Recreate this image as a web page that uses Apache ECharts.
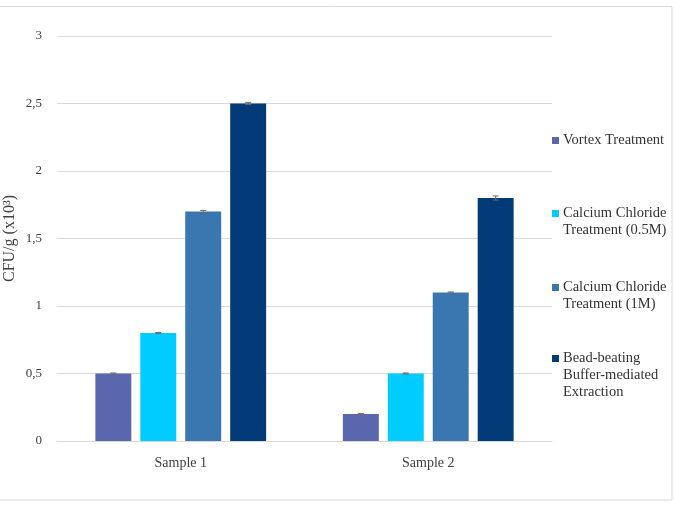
<!DOCTYPE html>
<html>
<head>
<meta charset="utf-8">
<script src="https://cdn.jsdelivr.net/npm/echarts@6/dist/echarts.min.js"></script>
<style>
  html, body { margin: 0; padding: 0; background: #fff; }
  #chart { width: 674px; height: 505px; }
</style>
</head>
<body>
<div id="chart"></div>
<script>
const categories = ["Sample 1", "Sample 2"];
const seriesNames = [
  "Vortex Treatment",
  "Calcium Chloride Treatment (0.5M)",
  "Calcium Chloride Treatment (1M)",
  "Bead-beating Buffer-mediated Extraction"
];
const vortex = [0.5, 0.2];
const cacl05 = [0.8, 0.5];
const cacl1 = [1.7, 1.1];
const beadBeating = [2.5, 1.8];
// +/- error per bar, same order as the series
const vortexErr = [0.004, 0.004];
const cacl05Err = [0.004, 0.004];
const cacl1Err = [0.008, 0.004];
const beadBeatingErr = [0.008, 0.015];

const values = [vortex, cacl05, cacl1, beadBeating];
const errors = [vortexErr, cacl05Err, cacl1Err, beadBeatingErr];
const colors = ["#5A66AE", "#00CCFF", "#3A77B0", "#023B77"];

// legend labels, wrapped like the original; blank lines keep the swatch on the first line
const legendLabels = [
  "Vortex Treatment",
  " \nCalcium Chloride\nTreatment (0.5M)",
  " \nCalcium Chloride\nTreatment (1M)",
  " \n \nBead-beating\nBuffer-mediated\nExtraction"
];
const legendTops = [132, 188, 262, 316];

const FONT = "'Liberation Serif', 'Times New Roman', serif";
const BAR_GAP = "25%";
const CAT_GAP = "31%";

function errorSeries(idx) {
  const data = categories.map((c, i) => [i, values[idx][i], errors[idx][i]]);
  return {
    type: "custom",
    name: seriesNames[idx],
    silent: true,
    z: 10,
    data: data,
    renderItem: (params, api) => {
      const layout = api.barLayout({ barGap: BAR_GAP, barCategoryGap: CAT_GAP, count: 4 });
      const x = api.value(0);
      const v = api.value(1);
      const e = api.value(2);
      const hi = api.coord([x, v + e]);
      const lo = api.coord([x, v - e]);
      const cx = hi[0] + layout[idx].offsetCenter;
      const cap = 3;
      const style = { stroke: "#6b6b6b", lineWidth: 1 };
      return {
        type: "group",
        children: [
          { type: "line", shape: { x1: cx, y1: hi[1], x2: cx, y2: lo[1] }, style },
          { type: "line", shape: { x1: cx - cap, y1: hi[1], x2: cx + cap, y2: hi[1] }, style },
          { type: "line", shape: { x1: cx - cap, y1: lo[1], x2: cx + cap, y2: lo[1] }, style }
        ]
      };
    }
  };
}

const chart = echarts.init(document.getElementById("chart"));

const barSeries = seriesNames.map((name, i) => ({
  name,
  type: "bar",
  data: values[i],
  barGap: BAR_GAP,
  barCategoryGap: CAT_GAP,
  itemStyle: { color: colors[i] }
}));

chart.setOption({
  backgroundColor: "#fff",
  animation: false,
  textStyle: { fontFamily: FONT },
  graphic: [
    {
      type: "rect",
      shape: { x: -1, y: 6.5, width: 673, height: 493.5 },
      style: { fill: "none", stroke: "#d9d9d9", lineWidth: 1 },
      silent: true
    }
  ],
  legend: seriesNames.map((name, i) => ({
    data: [name],
    orient: "vertical",
    left: 552,
    top: legendTops[i],
    itemWidth: 7,
    itemHeight: 7,
    itemGap: 0,
    padding: 0,
    icon: "rect",
    selectedMode: false,
    formatter: () => legendLabels[i],
    textStyle: { fontFamily: FONT, fontSize: 14.5, color: "#333", lineHeight: 17, padding: [0, 0, 0, -1] }
  })),
  grid: { left: 57, right: 122, top: 36, bottom: 64, outerBoundsMode: "none" },
  xAxis: {
    type: "category",
    data: categories,
    axisLine: { show: true, lineStyle: { color: "#d9d9d9" } },
    axisTick: { show: false },
    axisLabel: { color: "#404040", fontFamily: FONT, fontSize: 14, margin: 15 }
  },
  yAxis: {
    type: "value",
    min: 0,
    max: 3,
    interval: 0.5,
    name: "CFU/g (x10\u00B3)",
    nameLocation: "middle",
    nameGap: 39,
    nameMoveOverlap: false,
    nameTextStyle: { fontFamily: FONT, fontSize: 16, color: "#404040" },
    axisLine: { show: false },
    axisTick: { show: false },
    axisLabel: {
      color: "#404040",
      fontFamily: FONT,
      fontSize: 13,
      margin: 15,
      formatter: (v) => String(v).replace(".", ",")
    },
    splitLine: { lineStyle: { color: "#d9d9d9" } }
  },
  series: barSeries.concat(seriesNames.map((n, i) => errorSeries(i)))
});
</script>
</body>
</html>
